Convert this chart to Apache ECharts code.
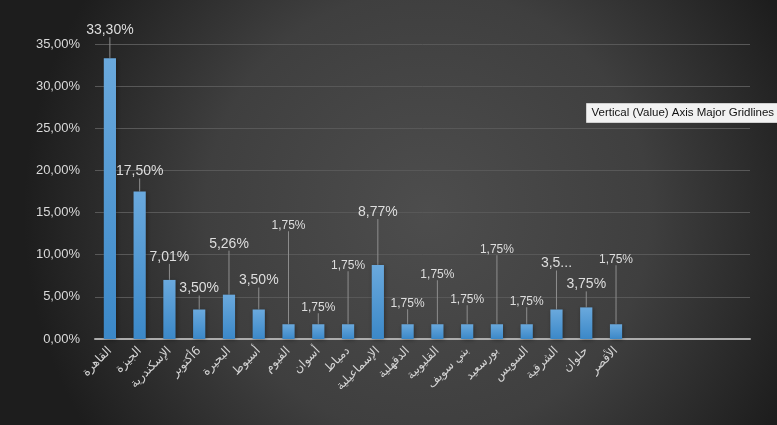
<!DOCTYPE html>
<html>
<head>
<meta charset="utf-8">
<script src="https://cdn.jsdelivr.net/npm/echarts@6/dist/echarts.min.js"></script>
<style>
html, body { margin: 0; padding: 0; background: #2a2a2a; }
#main { width: 777px; height: 425px; }
</style>
</head>
<body>
<div id="main"></div>
<script>
// governorates (4 empty slots at the end, like the sheet)
var categories = ['القاهرة', 'الجيزة', 'الإسكندرية', '\u200F6أكتوبر', 'البحيرة', 'أسيوط', 'الفيوم', 'أسوان',
  'دمياط', 'الإسماعيلية', 'الدقهلية', 'القليوبية', 'بني سويف', 'بورسعيد', 'السويس', 'الشرقية', 'حلوان', 'الأقصر',
  '', '', '', ''];
// share in percent
var shares = [33.30, 17.50, 7.01, 3.50, 5.26, 3.50, 1.75, 1.75, 1.75, 8.77, 1.75, 1.75, 1.75, 1.75, 1.75, 3.50, 3.75, 1.75,
  null, null, null, null];
var yTicks = [0, 5, 10, 15, 20, 25, 30, 35];

// how high each data label sits above its bar (px), as placed in the picture
var labelLift = [30, 22, 25, 23, 53, 31, 101, 19, 61, 55, 23, 52, 27, 77, 25, 48, 25, 67];

function pct(v) {
  return v.toFixed(2).replace('.', ',') + '%';
}

var myChart = echarts.init(document.getElementById('main'));

var barData = shares.map(function (v, i) {
  if (v == null) return null;
  var item = { value: v, label: { fontSize: v < 2 ? 12 : 14 } };
  if (i == 15) {
    // this one got cut off in the original
    item.label.width = 34;
    item.label.overflow = 'truncate';
    item.label.ellipsis = '...';
  }
  return item;
});

var option = {
  backgroundColor: {
    type: 'radial', x: 0.55, y: 0.5, r: 0.95,
    colorStops: [
      { offset: 0, color: '#4d4d4d' },
      { offset: 0.55, color: '#3f3f3f' },
      { offset: 1, color: '#1d1d1d' }
    ]
  },
  animation: false,
  textStyle: { fontFamily: '"Liberation Sans", Arial, sans-serif' },
  grid: { left: 95, right: 27, top: 44, bottom: 86 },
  xAxis: {
    type: 'category',
    data: categories,
    axisLine: { lineStyle: { color: '#acacac', width: 2 } },
    axisTick: { show: false },
    axisLabel: {
      rotate: 45, interval: 0, margin: 10,
      color: '#d4d4d4', fontSize: 12,
      fontFamily: '"DejaVu Sans", sans-serif'
    }
  },
  yAxis: {
    type: 'value',
    min: yTicks[0], max: yTicks[yTicks.length - 1], interval: 5,
    axisLine: { show: false },
    axisTick: { show: false },
    splitLine: { lineStyle: { color: '#585858', width: 1 } },
    axisLabel: {
      color: '#d9d9d9', fontSize: 13, margin: 15,
      formatter: function (v) { return pct(v); }
    }
  },
  series: [{
    type: 'bar',
    data: barData,
    barWidth: '41%',
    itemStyle: {
      color: {
        type: 'linear', x: 0, y: 0, x2: 0, y2: 1,
        colorStops: [
          { offset: 0, color: '#6aa9dd' },
          { offset: 1, color: '#3b88c8' }
        ]
      },
      shadowColor: 'rgba(0,0,0,0.35)', shadowBlur: 4, shadowOffsetX: 1, shadowOffsetY: 1
    },
    label: {
      show: true,
      position: 'top',
      color: '#dedede',
      padding: [0, 0, 4, 0],
      formatter: function (p) { return pct(p.value); }
    },
    labelLine: {
      show: true,
      lineStyle: { color: '#8e8e8e', width: 1 }
    },
    labelLayout: function (params) {
      var lift = labelLift[params.dataIndex];
      if (lift == null) return {};
      return {
        x: params.rect.x + params.rect.width / 2,
        y: params.rect.y - lift + 2,
        align: 'center',
        verticalAlign: 'middle'
      };
    }
  }],
  graphic: [{
    // excel hover tip that was in the screenshot
    type: 'group', left: 586, top: 103,
    children: [
      { type: 'rect', shape: { x: 0, y: 0, width: 200, height: 19 }, style: { fill: '#f2f2f2', stroke: '#cfcfcf' } },
      { type: 'text', x: 5, y: 3, style: { text: 'Vertical (Value) Axis Major Gridlines', fill: '#111', font: '11.5px "Liberation Sans", Arial, sans-serif' } }
    ]
  }]
};

myChart.setOption(option);
</script>
</body>
</html>
